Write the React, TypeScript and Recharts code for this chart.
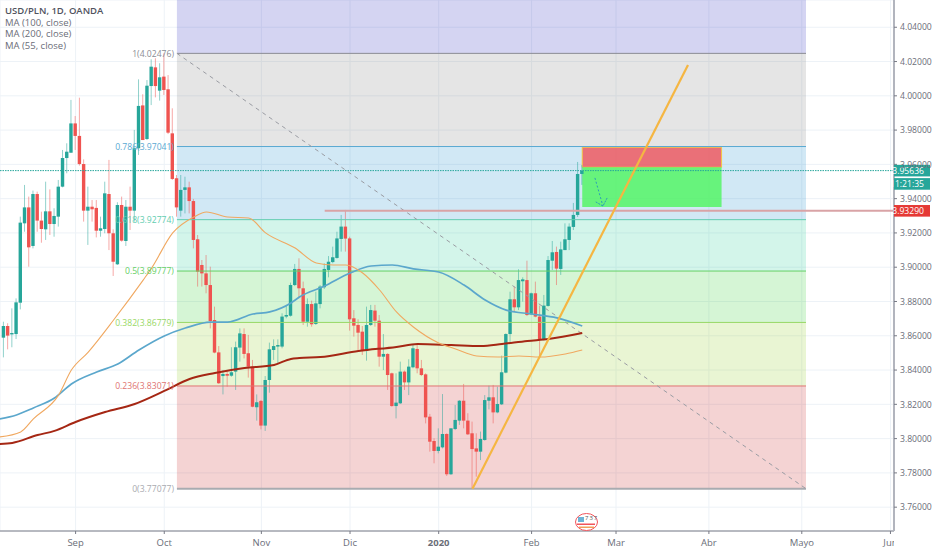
import {
  Bar,
  CartesianGrid,
  ComposedChart,
  Line,
  ReferenceArea,
  ReferenceDot,
  ReferenceLine,
  XAxis,
  YAxis,
} from "recharts";

const FONT = "'Open Sans', 'Noto Sans', sans-serif";
const NARROW = "'Liberation Sans Narrow', 'Open Sans', sans-serif";
const UP = "#26a69a";
const DOWN = "#ef5350";

// [high, top of body, bottom of body, low]
const candleRanges: number[][] = [
  [3.8682, 3.8657, 3.8589, 3.8474], [3.8673, 3.8657, 3.8601, 3.8521], [3.876, 3.8616, 3.8608, 3.8533], [3.8818, 3.8795, 3.861, 3.8581],
  [3.9295, 3.926, 3.8793, 3.8754], [3.948, 3.9349, 3.9256, 3.9207], [3.9412, 3.9349, 3.9116, 3.9003], [3.9447, 3.9427, 3.9124, 3.911],
  [3.9441, 3.9427, 3.9272, 3.9207], [3.9324, 3.9272, 3.9223, 3.9143], [3.9499, 3.9326, 3.9221, 3.9159], [3.9454, 3.9326, 3.9252, 3.9188],
  [3.9344, 3.9299, 3.9252, 3.9178], [3.9509, 3.947, 3.9295, 3.9237], [3.9684, 3.9637, 3.947, 3.9466], [3.9723, 3.9674, 3.9637, 3.9548],
  [3.9976, 3.9839, 3.9668, 3.9668], [3.9882, 3.9839, 3.9766, 3.9684], [3.9989, 3.9766, 3.9602, 3.9593], [3.9629, 3.9602, 3.933, 3.9266],
  [3.947, 3.9353, 3.933, 3.913], [3.9392, 3.9353, 3.9338, 3.9266], [3.9392, 3.9346, 3.9213, 3.9174], [3.9295, 3.9227, 3.9213, 3.9178],
  [3.9499, 3.9431, 3.9223, 3.9198], [3.9626, 3.9427, 3.9198, 3.91], [3.9221, 3.9198, 3.9032, 3.8949], [3.9379, 3.9363, 3.9017, 3.9013],
  [3.9412, 3.9363, 3.9155, 3.9149], [3.9392, 3.9353, 3.9153, 3.9124], [3.947, 3.9353, 3.933, 3.9217], [3.9801, 3.9694, 3.933, 3.9266],
  [4.0096, 3.9941, 3.9694, 3.9655], [4.0009, 3.9944, 3.9742, 3.9742], [4.0092, 4.0059, 3.9748, 3.9742], [4.0213, 4.017, 4.0057, 3.9946],
  [4.0219, 4.0166, 4.0057, 3.9991], [4.019, 4.0108, 4.003, 3.9972], [4.0248, 4.0112, 4.0034, 4.0005], [4.0121, 4.0038, 3.9785, 3.9777],
  [3.9927, 3.9781, 3.9515, 3.9509], [3.9538, 3.9519, 3.9349, 3.9295], [3.9538, 3.9451, 3.933, 3.9295], [3.9528, 3.9466, 3.9451, 3.9314],
  [3.9499, 3.9466, 3.9386, 3.9314], [3.9398, 3.9386, 3.9159, 3.911], [3.9188, 3.9163, 3.8974, 3.8887], [3.9042, 3.9013, 3.8964, 3.8887],
  [3.9071, 3.8964, 3.8896, 3.8848], [3.9003, 3.8896, 3.8686, 3.8643], [3.877, 3.8692, 3.8502, 3.8498], [3.854, 3.8503, 3.8323, 3.8319],
  [3.84, 3.8377, 3.8365, 3.8258], [3.8391, 3.8377, 3.8367, 3.8303], [3.8533, 3.8387, 3.8367, 3.8361], [3.8566, 3.8533, 3.8391, 3.8284],
  [3.8643, 3.8614, 3.8531, 3.8449], [3.8643, 3.861, 3.8494, 3.8468], [3.8605, 3.8498, 3.842, 3.8356], [3.8459, 3.842, 3.8186, 3.8183],
  [3.8258, 3.8212, 3.8183, 3.8105], [3.8225, 3.822, 3.8076, 3.8054], [3.8365, 3.8342, 3.8076, 3.8045], [3.856, 3.8521, 3.8342, 3.8268],
  [3.8579, 3.854, 3.8517, 3.8459], [3.8579, 3.8546, 3.8537, 3.8439], [3.8731, 3.8712, 3.8537, 3.8527], [3.878, 3.8721, 3.8712, 3.8702],
  [3.891, 3.8896, 3.8717, 3.8712], [3.9019, 3.899, 3.8896, 3.889], [3.9052, 3.899, 3.8877, 3.8818], [3.8916, 3.8877, 3.8682, 3.8663],
  [3.8818, 3.8785, 3.8682, 3.8653], [3.8805, 3.8785, 3.8667, 3.8653], [3.8857, 3.8789, 3.8669, 3.8663], [3.8896, 3.8887, 3.8785, 3.876],
  [3.9023, 3.899, 3.8883, 3.8873], [3.9065, 3.9032, 3.8984, 3.8941], [3.912, 3.9058, 3.903, 3.9023], [3.9207, 3.9168, 3.9054, 3.905],
  [3.9305, 3.9237, 3.9165, 3.9091], [3.9334, 3.9237, 3.9167, 3.9091], [3.9178, 3.9168, 3.8696, 3.863], [3.875, 3.8702, 3.8659, 3.8595],
  [3.8696, 3.8663, 3.8618, 3.8513], [3.8657, 3.8624, 3.8511, 3.8488], [3.877, 3.8663, 3.8511, 3.8455], [3.878, 3.875, 3.8663, 3.8657],
  [3.878, 3.8747, 3.8688, 3.8653], [3.8721, 3.8688, 3.8478, 3.842], [3.861, 3.8494, 3.8478, 3.84], [3.8498, 3.8494, 3.8371, 3.8284],
  [3.8385, 3.8381, 3.819, 3.8186], [3.8381, 3.821, 3.819, 3.8118], [3.8449, 3.8391, 3.8206, 3.8202], [3.8397, 3.8391, 3.8328, 3.8284],
  [3.8463, 3.842, 3.8328, 3.8254], [3.8552, 3.8527, 3.8416, 3.841], [3.8552, 3.8523, 3.841, 3.8381], [3.8459, 3.841, 3.8371, 3.8365],
  [3.8381, 3.8375, 3.8124, 3.8089], [3.8144, 3.8128, 3.7982, 3.7924], [3.8002, 3.7986, 3.7928, 3.7856], [3.806, 3.7953, 3.7928, 3.7914],
  [3.826, 3.8027, 3.7949, 3.7943], [3.8031, 3.8027, 3.7792, 3.7782], [3.806, 3.806, 3.7792, 3.7788], [3.8196, 3.8109, 3.8056, 3.805],
  [3.8225, 3.8221, 3.8105, 3.808], [3.8319, 3.8221, 3.8105, 3.806], [3.8148, 3.8105, 3.8025, 3.8021], [3.8099, 3.8031, 3.7939, 3.771],
  [3.8031, 3.7943, 3.7924, 3.7778], [3.8041, 3.7998, 3.7924, 3.7875], [3.8254, 3.8225, 3.7992, 3.7988], [3.8309, 3.8241, 3.8221, 3.8171],
  [3.8313, 3.8241, 3.8153, 3.8089], [3.8303, 3.8202, 3.8153, 3.8148], [3.8484, 3.8387, 3.82, 3.8196], [3.8614, 3.861, 3.8385, 3.8381],
  [3.8857, 3.8813, 3.861, 3.8552], [3.8887, 3.8813, 3.8766, 3.8741], [3.8988, 3.8925, 3.8766, 3.875], [3.8941, 3.8929, 3.8918, 3.8799],
  [3.9038, 3.8925, 3.8721, 3.8715], [3.8852, 3.8848, 3.8725, 3.8721], [3.8916, 3.8848, 3.8712, 3.8708], [3.8776, 3.8712, 3.8581, 3.8482],
  [3.8838, 3.8776, 3.8581, 3.8572], [3.9065, 3.9042, 3.8774, 3.877], [3.9153, 3.9087, 3.9038, 3.8984], [3.912, 3.9089, 3.8992, 3.8896],
  [3.9149, 3.9104, 3.899, 3.8955], [3.9256, 3.9163, 3.91, 3.91], [3.9256, 3.9237, 3.9159, 3.91], [3.9375, 3.9305, 3.9235, 3.9217],
  [3.9614, 3.9544, 3.9305, 3.9293], [3.9596, 3.9563, 3.9544, 3.948],
];
// bars that closed down, by bar number
const downBars = [
  2, 7, 9, 10, 12, 18, 19, 20, 22, 23, 26, 27, 29, 31, 34, 37, 39, 40, 41, 42, 45, 46, 47, 48, 49, 50, 51, 52, 54, 58, 59, 60, 62,
  71, 72, 74, 82, 83, 84, 85, 86, 89, 90, 92, 93, 96, 99, 100, 101, 102, 103, 106, 110, 111, 112, 113, 117, 122, 125, 127, 128, 132,
];

// [bar, price] points
const ma55: number[][] = [
  [0, 3.801], [5, 3.8039], [8, 3.8115], [14, 3.8255], [17, 3.84], [21, 3.8505], [27, 3.8692], [34, 3.8925], [36, 3.8995], [41, 3.92],
  [46, 3.9293], [49, 3.9322], [54, 3.9293], [59, 3.9287], [63, 3.92], [70, 3.9112], [75, 3.9025], [79, 3.9013], [82, 3.9013], [86, 3.8966],
  [90, 3.8867], [94, 3.8739], [98, 3.8651], [104, 3.8558], [108, 3.8523], [113, 3.8482], [118, 3.8476], [123, 3.8482], [128, 3.8476],
  [134, 3.8494], [138, 3.8517],
];
const ma100: number[][] = [
  [0, 3.8115], [4, 3.8138], [8, 3.8179], [13, 3.8237], [17, 3.8319], [23, 3.8389], [28, 3.8435], [33, 3.8517], [39, 3.8599], [44, 3.8645],
  [50, 3.868], [54, 3.868], [60, 3.8727], [64, 3.8739], [69, 3.8791], [71, 3.8826], [77, 3.889], [83, 3.8966], [88, 3.9007], [93, 3.9013],
  [98, 3.899], [104, 3.8972], [110, 3.8896], [115, 3.8809], [120, 3.875], [126, 3.8727], [132, 3.8704], [138, 3.8657],
];
const ma200: number[][] = [
  [0, 3.7969], [3, 3.7975], [9, 3.8021], [13, 3.8045], [18, 3.8097], [25, 3.8155], [32, 3.8202], [39, 3.8278], [45, 3.8348], [51, 3.8383],
  [58, 3.8412], [65, 3.843], [69, 3.8465], [71, 3.847], [76, 3.8476], [85, 3.8511], [94, 3.8535], [99, 3.8552], [107, 3.8546], [114, 3.854],
  [119, 3.8552], [125, 3.857], [130, 3.8581], [138, 3.8616],
];

const priceTicks = [3.76, 3.78, 3.8, 3.82, 3.84, 3.86, 3.88, 3.9, 3.92, 3.94, 3.96, 3.98, 4.0, 4.02, 4.04];
const monthBars = [18, 39, 62, 83, 104, 126, 146, 168, 190, 211];
const monthLabels = ["Sep", "Oct", "Nov", "Dic", "2020", "Feb", "Mar", "Abr", "Mayo", "Jun"];

const fibLevels = [4.02476, 3.97041, 3.92774, 3.89777, 3.86779, 3.83071, 3.77077];
const fibLabels = ["1(4.02476)", "0.786(3.97041)", "0.618(3.92774)", "0.5(3.89777)", "0.382(3.86779)", "0.236(3.83071)", "0(3.77077)"];
const fibColors = ["#8a8c94", "#5aa9d2", "#62cdb0", "#66d066", "#98d866", "#e07472", "#a9abb0"];
const fibFills = ["rgb(125,125,125)", "rgb(25,140,205)", "rgb(35,205,150)", "rgb(45,205,45)", "rgb(145,205,35)", "rgb(200,35,35)"];

const XMIN = 0.095;
const XMAX = 211.84;
const YMIN = 3.7461;
const YMAX = 4.0559;
const FIB_START = 42;
const FIB_END = 191;

const rows = candleRanges.map((c, idx) => {
  const bar = idx + 1;
  const down = downBars.includes(bar);
  return {
    bar,
    high: c[0],
    low: c[3],
    open: down ? c[1] : c[2],
    close: down ? c[2] : c[1],
    range: [c[3], c[0]],
  };
});

const toPoints = (list: number[][]) => list.map(([bar, v]) => ({ bar, v }));

function Candle(props: any) {
  const { x, y, width, height, payload } = props;
  const cx = x + width / 2;
  const perPrice = height / (payload.high - payload.low || 1);
  const top = y + (payload.high - Math.max(payload.open, payload.close)) * perPrice;
  const bot = y + (payload.high - Math.min(payload.open, payload.close)) * perPrice;
  const color = payload.close >= payload.open ? UP : DOWN;
  return (
    <g>
      <line x1={cx} x2={cx} y1={y} y2={y + height} stroke={color} strokeOpacity={0.5} strokeWidth={1} />
      <rect x={x} y={top} width={width} height={Math.max(bot - top, 1)} fill={color} />
    </g>
  );
}

function MonthTick(props: any) {
  const { x, y, payload } = props;
  const label = monthLabels[monthBars.indexOf(payload.value)];
  return (
    <g>
      <clipPath id="month-clip">
        <rect x={0} y={525} width={894} height={25} />
      </clipPath>
      <g clipPath="url(#month-clip)">
        <text
          x={x}
          y={y + 10}
          textAnchor="middle"
          fill="#6a6d78"
          fontSize={9.5}
          fontWeight={label === "2020" ? 700 : 400}
          fontFamily={NARROW}
        >
          {label}
        </text>
      </g>
    </g>
  );
}

function PriceTick(props: any) {
  const { x, y, payload } = props;
  return (
    <text x={x + 1} y={y + 3.2} fill="#6a6d78" fontSize={8.6} fontFamily={NARROW}>
      {payload.value.toFixed(5)}
    </text>
  );
}

function FibLabel(props: any) {
  const { cx, cy, text, color } = props;
  return (
    <text x={cx - 3} y={cy + 3.2} textAnchor="end" fill={color} fontSize={8.6} fontFamily={NARROW}>
      {text}
    </text>
  );
}

function PriceTag(props: any) {
  const { cx, cy, fill, text, offset = 0 } = props;
  return (
    <g>
      <rect x={cx} y={cy + offset - 5.8} width={36} height={11.6} fill={fill} />
      <text x={cx + 30} y={cy + offset + 3.2} textAnchor="end" fill="#fff" fontSize={8.6} fontFamily={NARROW}>
        {text}
      </text>
    </g>
  );
}

function Badge() {
  return (
    <svg width={26} height={20} style={{ position: "absolute", left: 574, top: 512 }}>
      <ellipse cx={12.5} cy={10} rx={11} ry={8.5} fill="#fff" stroke="#f2545b" strokeWidth={1} />
      <rect x={4} y={5} width={6} height={5} fill="#6db3d6" />
      <rect x={3} y={11.5} width={18} height={1.5} fill="#f2545b" />
      <rect x={5} y={14.5} width={15} height={1.5} fill="#f2a05b" />
      <text x={11} y={7.5} fontSize={6} fill="#555" fontFamily={FONT} letterSpacing={1}>
        737
      </text>
    </svg>
  );
}

export default function App() {
  return (
    <div style={{ position: "absolute", left: 0, top: 0, width: 932, height: 550, background: "#fff", overflow: "hidden" }}>
      <ComposedChart width={932} height={550} data={rows} margin={{ top: 0, right: 0, bottom: 0, left: 0 }}>
        <CartesianGrid stroke="#edf2f7" strokeWidth={1} />
        <XAxis
          dataKey="bar"
          type="number"
          domain={[XMIN, XMAX]}
          ticks={monthBars}
          height={19}
          interval={0}
          allowDataOverflow
          stroke="#787b86"
          tickSize={3}
          tick={<MonthTick />}
        />
        <YAxis
          orientation="right"
          type="number"
          domain={[YMIN, YMAX]}
          ticks={priceTicks}
          width={38}
          interval={0}
          allowDataOverflow
          axisLine={{ stroke: "#b2b5be", strokeWidth: 2 }}
          tickLine={{ stroke: "#787b86" }}
          tickSize={3}
          tick={<PriceTick />}
        />

        <ReferenceArea x1={FIB_START} x2={FIB_END} y1={fibLevels[0]} y2={YMAX} fill="rgb(40,40,190)" fillOpacity={0.2} stroke="none" />
        {fibFills.map((fill, i) => (
          <ReferenceArea
            key={fill}
            x1={FIB_START}
            x2={FIB_END}
            y1={fibLevels[i + 1]}
            y2={fibLevels[i]}
            fill={fill}
            fillOpacity={0.2}
            stroke="none"
          />
        ))}
        {fibLevels.map((level, i) => (
          <ReferenceLine
            key={level}
            segment={[{ x: FIB_START, y: level }, { x: FIB_END, y: level }]}
            stroke={fibColors[i]}
            strokeWidth={i === 6 ? 2 : 1}
          />
        ))}
        {fibLevels.map((level, i) => (
          <ReferenceDot
            key={fibLabels[i]}
            x={FIB_START}
            y={level}
            r={0}
            shape={<FibLabel text={fibLabels[i]} color={fibColors[i]} />}
          />
        ))}

        <ReferenceLine
          segment={[{ x: FIB_START, y: fibLevels[0] }, { x: FIB_END, y: fibLevels[6] }]}
          stroke="#9a9ca3"
          strokeDasharray="4 4"
        />

        <Line data={toPoints(ma200)} dataKey="v" type="monotone" stroke="#a52714" strokeWidth={2} dot={false} activeDot={false} isAnimationActive={false} />
        <Line data={toPoints(ma100)} dataKey="v" type="monotone" stroke="#5ba7cc" strokeWidth={1.7} dot={false} activeDot={false} isAnimationActive={false} />
        <Line data={toPoints(ma55)} dataKey="v" type="monotone" stroke="#f0a860" strokeWidth={1.1} dot={false} activeDot={false} isAnimationActive={false} />

        <Bar dataKey="range" barSize={3.4} shape={<Candle />} activeBar={false} isAnimationActive={false} />

        <ReferenceLine segment={[{ x: XMIN, y: 3.95636 }, { x: XMAX, y: 3.95636 }]} stroke="#26a69a" strokeDasharray="1.5 1" />
        <ReferenceLine segment={[{ x: 77, y: 3.9329 }, { x: XMAX, y: 3.9329 }]} stroke="#d9a3a6" strokeWidth={2} />
        <ReferenceLine segment={[{ x: 112, y: 3.77077 }, { x: 163.05, y: 4.018 }]} stroke="#f5b642" strokeWidth={2.2} />

        <ReferenceArea x1={138} x2={171} y1={3.9583} y2={3.97} fill="#ee5a62" fillOpacity={0.85} stroke="#f5c542" />
        <ReferenceArea x1={138} x2={171} y1={3.9352} y2={3.9583} fill="#55f566" fillOpacity={0.85} stroke="none" />

        <ReferenceLine segment={[{ x: 141, y: 3.9521 }, { x: 142.9, y: 3.9357 }]} stroke="#2a9db8" strokeDasharray="2 2" />
        <ReferenceLine segment={[{ x: 141.2, y: 3.9381 }, { x: 142.9, y: 3.9357 }]} stroke="#2a9db8" strokeDasharray="2 1" />
        <ReferenceLine segment={[{ x: 143.9, y: 3.9404 }, { x: 142.9, y: 3.9357 }]} stroke="#2a9db8" strokeDasharray="2 1" />

        <ReferenceDot x={XMAX} y={3.95636} r={0} fill="#26a69a" stroke="none" shape={<PriceTag text="3.95636" />} />
        <ReferenceDot x={XMAX} y={3.95636} r={0} fill="#26a69a" stroke="none" shape={<PriceTag text="11:21:35" offset={13.3} />} />
        <ReferenceDot x={XMAX} y={3.9329} r={0} fill="#e53935" stroke="none" shape={<PriceTag text="3.93290" />} />
      </ComposedChart>

      <div style={{ position: "absolute", left: 5, top: 5, fontFamily: FONT, fontSize: 9.5, lineHeight: "11.5px", color: "#6a6d78" }}>
        <div style={{ fontWeight: 600, color: "#50535e" }}>USD/PLN, 1D, OANDA</div>
        <div>MA (100, close)</div>
        <div>MA (200, close)</div>
        <div>MA (55, close)</div>
      </div>
      <Badge />
    </div>
  );
}
